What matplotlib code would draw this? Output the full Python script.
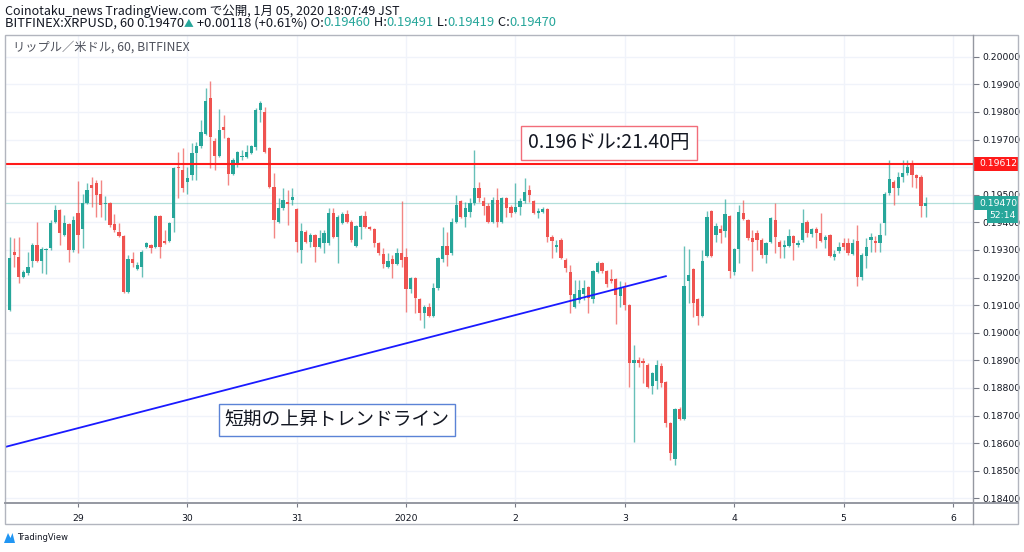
import numpy as np
import matplotlib
matplotlib.use('Agg')
import matplotlib.pyplot as plt
import matplotlib.transforms as mtransforms
from matplotlib.patches import Rectangle, Polygon
from matplotlib.lines import Line2D

plt.rcParams['font.family'] = ['Noto Sans CJK JP', 'DejaVu Sans']

# XRPUSD hourly candles (Bitfinex), prices in units of 0.00001 USD
opens = [
    19082, 19292, 19274, 19202, 19216, 19259, 19317, 19259, 19299, 19307,
    19401, 19444, 19354, 19393, 19300, 19433, 19375, 19470, 19535, 19542,
    19502, 19466, 19470, 19393, 19364, 19350, 19147, 19267, 19230, 19238,
    19310, 19317, 19310, 19422, 19332, 19332, 19415, 19600, 19589, 19546,
    19571, 19651, 19676, 19720, 19850, 19694, 19640, 19745, 19705, 19575,
    19615, 19636, 19636, 19651, 19673, 19807, 19799, 19669, 19528, 19401,
    19452, 19473, 19481, 19448, 19300, 19364, 19328, 19354, 19310, 19325,
    19325, 19433, 19346, 19397, 19430, 19401, 19314, 19383, 19422, 19383,
    19375, 19325, 19285, 19238, 19267, 19249, 19289, 19274, 19158, 19198,
    19122, 19071, 19093, 19060, 19162, 19267, 19314, 19289, 19401, 19477,
    19419, 19437, 19470, 19524, 19477, 19459, 19401, 19481, 19401, 19488,
    19455, 19437, 19455, 19477, 19517, 19477, 19433, 19437, 19448, 19346,
    19310, 19336, 19263, 19220, 19093, 19118, 19140, 19165, 19122, 19220,
    19252, 19223, 19194, 19194, 19133, 19162, 19100, 18890, 18901, 18897,
    18883, 18807, 18825, 18879, 18821, 18673, 18542, 18723, 18687, 19187,
    19231, 19122, 19060, 19278, 19441, 19354, 19375, 19368, 19422, 19220,
    19303, 19433, 19408, 19343, 19361, 19336, 19281, 19328, 19408, 19328,
    19310, 19314, 19350, 19317, 19336, 19401, 19357, 19375, 19361, 19336,
    19354, 19274, 19296, 19325, 19325, 19285, 19332, 19202, 19278, 19336,
    19332, 19325, 19397, 19506, 19546, 19524, 19564, 19578, 19607, 19571,
    19564, 19460,
]
highs = [
    19346, 19343, 19346, 19227, 19292, 19325, 19401, 19310, 19307, 19408,
    19462, 19448, 19426, 19397, 19422, 19549, 19502, 19542, 19564, 19553,
    19553, 19495, 19473, 19430, 19397, 19354, 19281, 19292, 19256, 19300,
    19328, 19321, 19426, 19426, 19372, 19401, 19600, 19654, 19669, 19600,
    19687, 19691, 19770, 19886, 19912, 19705, 19810, 19788, 19709, 19633,
    19658, 19662, 19680, 19680, 19814, 19839, 19817, 19673, 19578, 19488,
    19524, 19517, 19524, 19452, 19397, 19372, 19361, 19357, 19372, 19372,
    19452, 19452, 19426, 19437, 19444, 19408, 19390, 19426, 19441, 19386,
    19379, 19328, 19307, 19289, 19281, 19307, 19477, 19307, 19202, 19202,
    19126, 19100, 19107, 19180, 19274, 19383, 19364, 19415, 19499, 19481,
    19473, 19488, 19662, 19546, 19491, 19470, 19491, 19524, 19491, 19491,
    19462, 19542, 19488, 19560, 19535, 19481, 19452, 19455, 19452, 19354,
    19336, 19343, 19270, 19245, 19191, 19191, 19191, 19169, 19227, 19260,
    19256, 19227, 19230, 19198, 19187, 19184, 19104, 18955, 18912, 18908,
    18890, 18857, 18901, 18890, 18825, 18676, 18727, 18731, 19314, 19303,
    19234, 19126, 19300, 19441, 19444, 19397, 19390, 19484, 19426, 19307,
    19462, 19481, 19412, 19372, 19372, 19343, 19328, 19419, 19470, 19336,
    19336, 19375, 19354, 19336, 19448, 19408, 19379, 19383, 19433, 19354,
    19357, 19300, 19328, 19343, 19343, 19339, 19390, 19289, 19343, 19361,
    19350, 19397, 19509, 19626, 19553, 19582, 19626, 19626, 19626, 19575,
    19571, 19491,
]
lows = [
    19078, 19238, 19180, 19198, 19209, 19238, 19256, 19216, 19212, 19300,
    19397, 19317, 19350, 19256, 19292, 19289, 19307, 19466, 19455, 19419,
    19419, 19408, 19383, 19364, 19346, 19144, 19144, 19238, 19227, 19202,
    19307, 19289, 19307, 19270, 19321, 19328, 19364, 19488, 19509, 19502,
    19553, 19553, 19669, 19716, 19596, 19589, 19636, 19705, 19535, 19571,
    19600, 19626, 19633, 19647, 19662, 19763, 19651, 19524, 19343, 19397,
    19444, 19390, 19462, 19292, 19252, 19325, 19310, 19256, 19307, 19289,
    19317, 19343, 19252, 19393, 19397, 19328, 19310, 19339, 19379, 19372,
    19310, 19281, 19234, 19234, 19198, 19245, 19238, 19075, 19144, 19071,
    19046, 19017, 19057, 19057, 19155, 19256, 19241, 19281, 19397, 19415,
    19383, 19419, 19462, 19473, 19426, 19397, 19397, 19383, 19397, 19419,
    19419, 19433, 19426, 19470, 19473, 19430, 19415, 19433, 19328, 19270,
    19292, 19267, 19220, 19071, 19089, 19107, 19118, 19071, 19107, 19216,
    19216, 19165, 19180, 19031, 19093, 19082, 18803, 18604, 18876, 18817,
    18799, 18778, 18796, 18803, 18658, 18539, 18520, 18684, 18684, 19107,
    19057, 19028, 19057, 19274, 19274, 19328, 19325, 19346, 19198, 19209,
    19252, 19408, 19336, 19223, 19300, 19270, 19252, 19325, 19289, 19270,
    19270, 19310, 19263, 19310, 19328, 19346, 19346, 19307, 19328, 19307,
    19274, 19263, 19289, 19300, 19281, 19281, 19169, 19191, 19234, 19292,
    19292, 19292, 19354, 19499, 19462, 19499, 19546, 19571, 19528, 19524,
    19419, 19419,
]
closes = [
    19270, 19281, 19202, 19220, 19238, 19317, 19259, 19303, 19303, 19397,
    19444, 19361, 19397, 19300, 19408, 19354, 19470, 19517, 19524, 19499,
    19462, 19470, 19390, 19372, 19350, 19147, 19267, 19252, 19245, 19292,
    19325, 19307, 19422, 19310, 19325, 19397, 19596, 19596, 19524, 19560,
    19651, 19676, 19727, 19839, 19709, 19640, 19734, 19734, 19575, 19626,
    19654, 19640, 19654, 19676, 19807, 19832, 19654, 19528, 19408, 19452,
    19481, 19466, 19491, 19328, 19368, 19328, 19354, 19310, 19343, 19361,
    19433, 19346, 19419, 19430, 19401, 19336, 19386, 19422, 19383, 19375,
    19325, 19289, 19249, 19260, 19249, 19289, 19263, 19158, 19198, 19126,
    19071, 19093, 19060, 19162, 19270, 19314, 19281, 19401, 19462, 19419,
    19452, 19470, 19524, 19488, 19459, 19401, 19481, 19401, 19488, 19452,
    19433, 19455, 19477, 19509, 19499, 19433, 19441, 19448, 19346, 19332,
    19317, 19270, 19234, 19137, 19140, 19155, 19162, 19126, 19223, 19252,
    19223, 19176, 19187, 19137, 19162, 19100, 18890, 18901, 18890, 18890,
    18803, 18854, 18883, 18817, 18673, 18564, 18723, 18687, 19169, 19209,
    19107, 19060, 19260, 19419, 19278, 19386, 19361, 19430, 19223, 19303,
    19437, 19412, 19343, 19328, 19336, 19281, 19325, 19415, 19346, 19310,
    19317, 19350, 19325, 19325, 19397, 19361, 19375, 19361, 19332, 19346,
    19278, 19285, 19310, 19310, 19289, 19325, 19202, 19281, 19310, 19346,
    19325, 19354, 19502, 19557, 19524, 19564, 19578, 19600, 19571, 19560,
    19459, 19470,
]

# first candle = 28 Dec 09:00 JST, one slot per hour
day_ticks = [15, 39, 63, 87, 111, 135, 159, 183, 207]
day_labels = ['29', '30', '31', '2020', '2', '3', '4', '5', '6']
price_ticks = [0.184, 0.185, 0.186, 0.187, 0.188, 0.189, 0.190, 0.191,
               0.192, 0.193, 0.194, 0.195, 0.196, 0.197, 0.198, 0.199, 0.200]
# the 0.19600 label sits under the red price tag
price_labels = ['%.5f' % p if abs(p - 0.196) > 1e-9 else '' for p in price_ticks]

resist_price = 0.19612
last_price = 0.19470
trend_x = [-1.0, 144.0]
trend_y = [0.18586, 0.19205]

UP = '#26a69a'
DOWN = '#ef5350'
W, H = 1024, 552

o = np.array(opens) / 1e5
h = np.array(highs) / 1e5
l = np.array(lows) / 1e5
c = np.array(closes) / 1e5
x = np.arange(len(o))
up = c >= o
cols = np.where(up, UP, DOWN)

fig = plt.figure(figsize=(W / 100, H / 100), dpi=100)
fig.patch.set_facecolor('white')

# chart pane: x 5..973, y 35..503 (pixels)
ax = fig.add_axes([5 / W, 1 - 503 / H, 968 / W, 468 / H])
ax.set_xlim(-1.02, 211.4)
ax.set_ylim(0.18383, 0.20079)
for s in ax.spines.values():
    s.set_visible(False)

ax.set_yticks(price_ticks)
ax.set_yticklabels(price_labels)
ax.set_xticks(day_ticks)
ax.set_xticklabels(day_labels)
ax.yaxis.tick_right()
ax.tick_params(axis='y', length=4, width=0.8, color='#787b86', labelsize=6.7,
               labelcolor='#131722', pad=3, labelfontfamily='DejaVu Sans')
ax.tick_params(axis='x', length=3, width=0.8, color='#787b86', labelsize=6.7,
               labelcolor='#131722', pad=5, labelfontfamily='DejaVu Sans')
ax.grid(True, color='#f0f3fa', linewidth=1, zorder=0)
ax.set_axisbelow(True)

# candles
ax.vlines(x, l, h, colors=cols, linewidth=1, alpha=0.7, zorder=2)
body = np.maximum(np.abs(c - o), 0.00003)
ax.bar(x, body, bottom=np.minimum(o, c), width=0.72, color=cols, zorder=3)

# horizontal lines
ax.axhline(last_price, color='#26a69a', alpha=0.35, linewidth=0.9, zorder=1)
ax.axhline(resist_price, color='#ff1a1a', linewidth=1.5, zorder=4)

# trend line
ax.plot(trend_x, trend_y, color='#1a1aff', linewidth=1.3, zorder=4)

# price tags on the price scale
trans = mtransforms.blended_transform_factory(ax.transAxes, ax.transData)
px_price = (0.20079 - 0.18383) / 468
tag_w = 45 / 968


def price_tag(price, label, color):
    ax.add_patch(Rectangle((1.0, price - 7 * px_price), tag_w, 14 * px_price,
                           transform=trans, facecolor=color, edgecolor='none',
                           clip_on=False, zorder=6))
    ax.text(1.0 + 6 / 968, price, label, transform=trans, color='white',
            fontsize=6.7, family='DejaVu Sans', ha='left', va='center',
            zorder=7, clip_on=False)


price_tag(resist_price, '%.5f' % resist_price, '#ff1a1a')
price_tag(last_price, '%.5f' % last_price, UP)
ax.add_patch(Rectangle((1.0 + 14 / 968, last_price - 19.5 * px_price), 31 / 968,
                       15 * px_price, transform=trans, facecolor=UP,
                       edgecolor='none', clip_on=False, zorder=6))
ax.text(1.0 + 29.5 / 968, last_price - 12 * px_price, '52:14', transform=trans,
        color='white', fontsize=6.7, family='DejaVu Sans', ha='center',
        va='center', zorder=7, clip_on=False)

# pane frame and separators
fig.add_artist(Rectangle((5 / W, 1 - 524 / H), 1013 / W, 489 / H, fill=False,
                         edgecolor='#b2b5be', linewidth=1, transform=fig.transFigure))
fig.add_artist(Line2D([973 / W, 973 / W], [1 - 524 / H, 1 - 35 / H],
                      color='#9598a1', linewidth=1, transform=fig.transFigure))
fig.add_artist(Line2D([5 / W, 1018 / W], [1 - 503 / H, 1 - 503 / H],
                      color='#9598a1', linewidth=1.4, transform=fig.transFigure))

# annotation boxes
fig.text(609 / W, 1 - 143 / H, '0.196ドル:21.40円', fontsize=14, color='#131722',
         ha='center', va='center',
         bbox=dict(boxstyle='square,pad=0.35', facecolor='white',
                   edgecolor='#f26d7a', linewidth=1))
fig.text(337 / W, 1 - 420 / H, '短期の上昇トレンドライン', fontsize=13.5,
         color='#131722', ha='center', va='center',
         bbox=dict(boxstyle='square,pad=0.3', facecolor='white',
                   edgecolor='#5b83d6', linewidth=1))

# pane title
fig.text(13 / W, 1 - 47 / H, 'リップル／米ドル, 60, BITFINEX', fontsize=8.8,
         color='#50535e', ha='left', va='center')

# header lines
fig.text(5 / W, 1 - 11.5 / H, 'Coinotaku_news TradingView.com で公開, 1月 05, 2020 18:07:49 JST',
         fontsize=9.0, color='#131722', ha='left', va='center')

fig.canvas.draw()
renderer = fig.canvas.get_renderer()
pieces = [
    ('BITFINEX:XRPUSD, 60 0.19470', '#131722', 9.3),
    ('▲', UP, 7),
    (' +0.00118 (+0.61%) O:', '#131722', 9.3),
    ('0.19460', UP, 9.3),
    (' H:', '#131722', 9.3),
    ('0.19491', UP, 9.3),
    (' L:', '#131722', 9.3),
    ('0.19419', UP, 9.3),
    (' C:', '#131722', 9.3),
    ('0.19470', UP, 9.3),
]
xpos = 5
for txt, col, fs in pieces:
    t = fig.text(xpos / W, 1 - 26.5 / H, txt, fontsize=fs, color=col,
                 ha='left', va='baseline')
    bb = t.get_window_extent(renderer)
    xpos += bb.width

# TradingView watermark
fig.add_artist(Polygon([[4 / W, 1 - 543 / H], [8 / W, 1 - 533 / H],
                        [10.5 / W, 1 - 538 / H], [12.5 / W, 1 - 533 / H],
                        [15 / W, 1 - 543 / H]], closed=True,
                       facecolor='#2196f3', edgecolor='none',
                       transform=fig.transFigure))
fig.text(17 / W, 1 - 538 / H, 'TradingView', fontsize=6, color='#131722',
         ha='left', va='center', family='DejaVu Sans')

fig.savefig('out.png', dpi=100)
